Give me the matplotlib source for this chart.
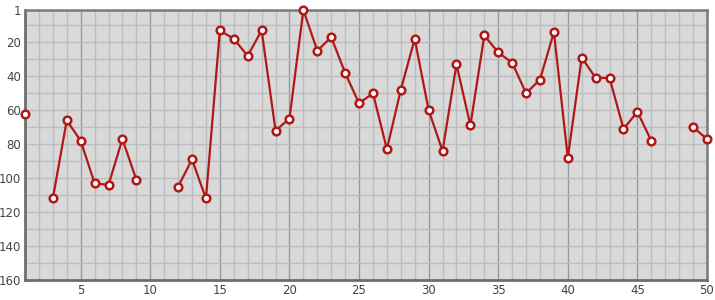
import numpy as np
import matplotlib
matplotlib.use("Agg")
import matplotlib.pyplot as plt

x = list(range(1, 51))
rank = [62, None, 112, 66, 78, 103, 104, 77, 101, None,
        None, 105, 89, 112, 13, 18, 28, 13, 72, 65,
        1, 25, 17, 38, 56, 50, 83, 48, 18, 60,
        84, 33, 69, 16, 26, 32, 50, 42, 14, 88,
        29, 41, 41, 71, 61, 78, None, None, 70, 77]
yticks = [1, 20, 40, 60, 80, 100, 120, 140, 160]
xticks = [5, 10, 15, 20, 25, 30, 35, 40, 45, 50]

y = np.array([np.nan if v is None else v for v in rank], dtype=float)

fig = plt.figure(figsize=(7.15, 3.0), dpi=100)
ax = fig.add_axes([25/715, 20/300, 682/715, 270/300])
ax.set_facecolor("#d9d9d9")

ax.set_xlim(1, 50)
ax.set_ylim(160, 1)

# grid
for v in range(2, 50):
    ax.axvline(v, color="#999999" if v % 5 == 0 else "#bdbdbd", lw=1.0, zorder=1)
for v in range(10, 160, 10):
    ax.axhline(v, color="#bdbdbd", lw=1.0, zorder=1)

ax.plot(x, y, color="#b01818", lw=1.6, marker="o", markersize=5.5,
        markerfacecolor="white", markeredgecolor="#b01818", markeredgewidth=1.8,
        zorder=3, clip_on=False)

ax.set_xticks(xticks)
ax.set_yticks(yticks)
ax.tick_params(length=0, labelsize=8.5, colors="#444444", pad=3)
for lab in ax.get_xticklabels() + ax.get_yticklabels():
    lab.set_color("#444444")

for side in ["left", "bottom"]:
    ax.spines[side].set_color("#6e6e6e")
    ax.spines[side].set_linewidth(2)
for side in ["top", "right"]:
    ax.spines[side].set_color("#7a7a7a")
    ax.spines[side].set_linewidth(1.8)

fig.savefig("out.png", dpi=100)
